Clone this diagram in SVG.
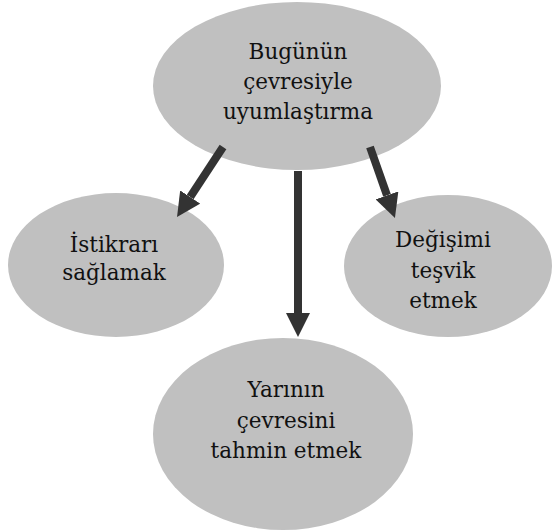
<svg xmlns="http://www.w3.org/2000/svg" width="555" height="531" viewBox="0 0 555 531">
  <style>
    .node { fill: #c0c0c0; }
    .label { font-family: "DejaVu Serif", "Liberation Serif", serif; font-size: 21.5px; fill: #111; text-anchor: middle; }
    .link { stroke: #333; stroke-width: 8; fill: none; marker-end: url(#head); }
  </style>
  <defs>
    <marker id="head" markerUnits="userSpaceOnUse" viewBox="0 0 24 24" refX="0" refY="12" markerWidth="24" markerHeight="24" orient="auto">
      <path d="M0,0 L24,12 L0,24 Z" fill="#333"/>
    </marker>
  </defs>
  <rect width="555" height="531" fill="#fff"/>

  <g id="node-today">
    <ellipse class="node" cx="297" cy="86" rx="144" ry="84"/>
    <text class="label" x="298" y="59">Bugünün</text>
    <text class="label" x="298" y="89">çevresiyle</text>
    <text class="label" x="298" y="119">uyumlaştırma</text>
  </g>

  <g id="node-stability">
    <ellipse class="node" cx="116" cy="265" rx="108" ry="72"/>
    <text class="label" x="114" y="252">İstikrarı</text>
    <text class="label" x="114" y="280">sağlamak</text>
  </g>

  <g id="node-change">
    <ellipse class="node" cx="448" cy="266" rx="104" ry="71"/>
    <text class="label" x="443" y="247">Değişimi</text>
    <text class="label" x="443" y="278">teşvik</text>
    <text class="label" x="443" y="308">etmek</text>
  </g>

  <g id="node-tomorrow">
    <ellipse class="node" cx="283" cy="434" rx="130" ry="96"/>
    <text class="label" x="286" y="397">Yarının</text>
    <text class="label" x="286" y="428">çevresini</text>
    <text class="label" x="286" y="458">tahmin etmek</text>
  </g>

  <g id="connectors">
    <line class="link" x1="223" y1="147" x2="190.2" y2="197"/>
    <line class="link" x1="298" y1="171" x2="298" y2="313"/>
    <line class="link" x1="370" y1="147" x2="387" y2="195.4"/>
  </g>
</svg>
